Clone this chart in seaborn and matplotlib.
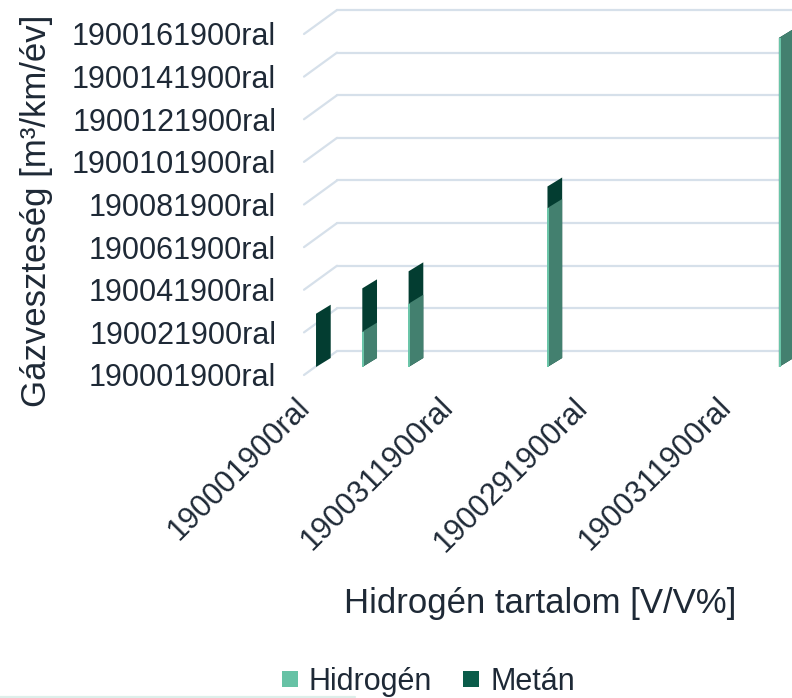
import numpy as np
import pandas as pd
import seaborn as sns
import matplotlib
matplotlib.use("Agg")
import matplotlib.pyplot as plt
from matplotlib.transforms import Affine2D, offset_copy
from matplotlib.lines import Line2D

# ---- data -------------------------------------------------------------
hydrogen_pct = [0, 10, 20, 50, 100]            # hydrogen content [V/V%]
hydrogen_loss = [0.0, 1.66, 2.97, 7.46, 15.44]  # hydrogen share of loss
methane_loss = [2.50, 2.03, 1.52, 1.01, 0.0]    # methane share of loss

y_ticks = [0, 2, 4, 6, 8, 10, 12, 14, 16]
y_labels = ["190001900ral", "190021900ral", "190041900ral", "190061900ral",
            "190081900ral", "1900101900ral", "1900121900ral",
            "1900141900ral", "1900161900ral"]
x_ticks = [0, 31, 60, 91]
x_labels = ["190001900ral", "1900311900ral", "1900291900ral", "1900311900ral"]

series_names = ["Hidrogén", "Metán"]

# ---- style ------------------------------------------------------------
sns.set_theme(style="white")
plt.rcParams["font.family"] = ["Liberation Sans", "DejaVu Sans"]

TEXT = "#1E2936"
GRID = "#D6E0EA"
H_SIDE = "#43806F"
H_FRONT = "#6CC7AA"
M_SIDE = "#033D31"
H_LEG = "#66C2A5"
M_LEG = "#0A5C4A"

# depth of the back wall and of the column faces, in pixels
WALL_DX, WALL_DY = 33, 24
COL_DX, COL_DY = 11, 8
COL_W, COL_RISE = 14.7, 9.0

W, H = 792, 698
fig = plt.figure(figsize=(W / 100, H / 100), dpi=100)
ax = fig.add_axes([304 / W, (H - 375) / H, (W - 304) / W, 341 / H])
XLIM = (-0.22, 105.2)
YLIM = (0, 16)
ax.set_xlim(*XLIM)
ax.set_ylim(*YLIM)
for s in ax.spines.values():
    s.set_visible(False)
ax.set_facecolor("none")

# pixels per data unit on both axes
p0 = ax.transData.transform((0, 0))
p1 = ax.transData.transform((1, 1))
pxu, pyu = p1 - p0

df = pd.DataFrame({
    "pct": hydrogen_pct,
    "hydrogen": hydrogen_loss,
    "total": np.add(hydrogen_loss, methane_loss),
})

bar_width = (COL_W / pxu) / 10.0
sns.barplot(data=df, x="pct", y="total", native_scale=True, orient="x",
            width=bar_width, color=M_SIDE, saturation=1, errorbar=None,
            linewidth=0, ax=ax, zorder=3)
sns.barplot(data=df, x="pct", y="hydrogen", native_scale=True, orient="x",
            width=bar_width, color=H_SIDE, saturation=1, errorbar=None,
            linewidth=0, ax=ax, zorder=4)
ax.set_xlim(*XLIM)
ax.set_ylim(*YLIM)

# shear each column into its side face, set back into the depth
for p in ax.patches:
    left = p.get_x()
    center = left + p.get_width() / 2
    px_left = ax.transData.transform((left, 0))[0]
    tx = ax.transData.transform((center, 0))[0] + COL_DX
    shear = (Affine2D().translate(-px_left, 0)
             .skew(0, np.arctan(COL_RISE / COL_W))
             .translate(tx, COL_DY))
    p.set_transform(ax.transData + shear)
    p.set_clip_on(False)

# narrow front faces of the hydrogen columns
front = offset_copy(ax.transData, fig=fig, x=COL_DX + 0.8, y=COL_DY, units="dots")
ax.vlines(hydrogen_pct, 0, hydrogen_loss, colors=H_FRONT, linewidth=1.4,
          transform=front, zorder=5, clip_on=False)

# back wall gridlines and the receding lines on the side wall
ddx, ddy = WALL_DX / pxu, WALL_DY / pyu
x0 = XLIM[0]
for t in y_ticks:
    ax.add_line(Line2D([x0, x0 + ddx], [t, t + ddy], color=GRID, lw=1.6,
                       zorder=1, clip_on=False))
    ax.add_line(Line2D([x0 + ddx, XLIM[1] + ddx], [t + ddy, t + ddy],
                       color=GRID, lw=1.6, zorder=1, clip_on=False))

# ticks
ax.set_yticks(y_ticks, y_labels)
ax.set_xticks(x_ticks, x_labels)
ax.tick_params(axis="y", length=0, pad=20, labelsize=22, labelcolor=TEXT)
ax.tick_params(axis="x", length=0, pad=20, labelsize=22, labelcolor=TEXT)
for lab in ax.get_xticklabels():
    lab.set_rotation(45)
    lab.set_rotation_mode("anchor")
    lab.set_ha("right")
    lab.set_va("center")
ax.set_xlabel("")
ax.set_ylabel("")
ax.grid(False)

# axis titles
fig.text(540 / W, 1 - 603 / H, "Hidrogén tartalom [V/V%]", ha="center",
         va="center", fontsize=25, color=TEXT)
fig.text(37 / W, 1 - 211 / H, "Gázveszteség [m³/km/év]", ha="center",
         va="center", rotation=90, fontsize=25, color=TEXT)

# legend
handles = [Line2D([], [], marker="s", linestyle="none", markersize=11.5,
                  markerfacecolor=c, markeredgewidth=0)
           for c in (H_LEG, M_LEG)]
fig.legend(handles, series_names, loc="center", ncol=2, frameon=False,
           bbox_to_anchor=(428 / W, 1 - 682 / H), fontsize=22,
           handlelength=0.55, handletextpad=0.35, columnspacing=1.0,
           labelcolor=TEXT)

fig.add_artist(Line2D([0, 355 / W], [1.2 / H, 1.2 / H], color="#DDEFEA",
                      lw=1.6))

fig.savefig("out.png", dpi=100)
